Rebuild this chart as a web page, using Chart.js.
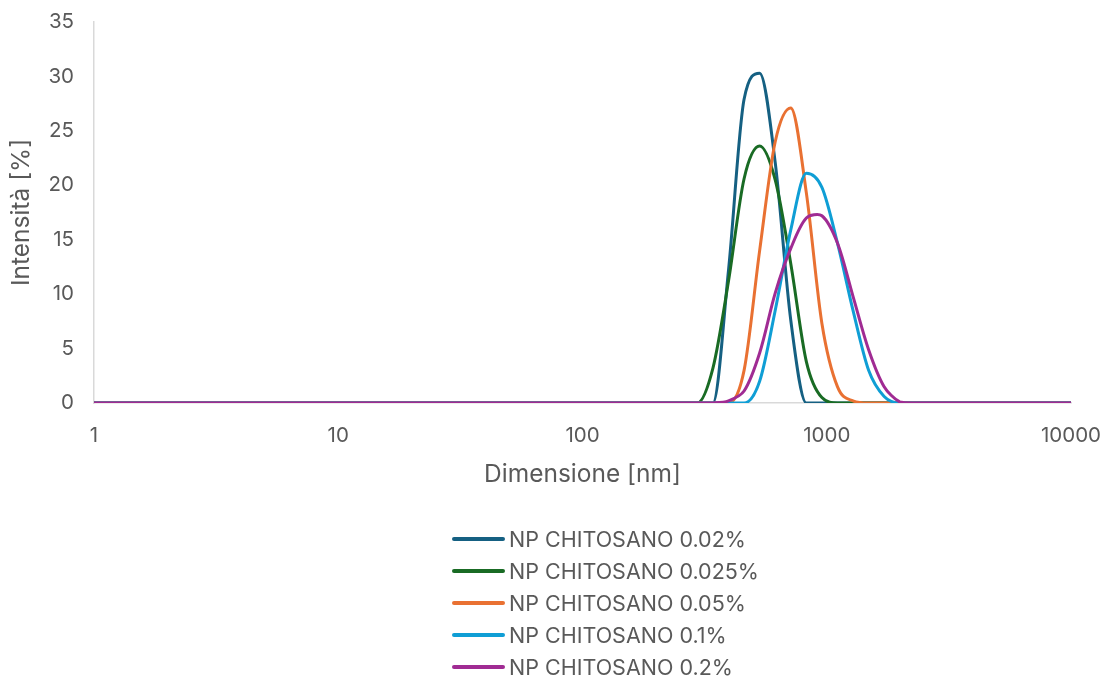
<!DOCTYPE html>
<html>
<head>
<meta charset="utf-8">
<script src="https://cdn.jsdelivr.net/npm/chart.js@4.4.1/dist/chart.umd.min.js"></script>
<style>
  body { margin: 0; background: #fff; }
  #wrap { position: relative; width: 1109px; height: 678px; }
  #legend { position: absolute; left: 452px; top: 523px; font-family: Inter, sans-serif; font-size: 21.5px; color: #595959; }
  .item { display: flex; align-items: center; height: 32px; }
  .swatch { width: 53px; height: 4px; border-radius: 2px; margin-right: 4px; }
</style>
</head>
<body>
<div id="wrap">
  <canvas id="chart" width="1109" height="678"></canvas>
  <div id="legend"></div>
</div>
<script>
// DLS size bins (nm)
const sizes = [
  0.9649, 1.117, 1.294, 1.499, 1.736, 2.010, 2.328, 2.696, 3.122, 3.615,
  4.187, 4.849, 5.615, 6.503, 7.531, 8.721, 10.10, 11.70, 13.54, 15.69,
  18.17, 21.04, 24.36, 28.21, 32.67, 37.84, 43.82, 50.75, 58.77, 68.06,
  78.82, 91.28, 105.7, 122.4, 141.8, 164.2, 190.1, 220.2, 255.0, 295.3,
  342.0, 396.1, 458.7, 531.2, 615.1, 712.4, 825.0, 955.4, 1106, 1281,
  1484, 1718, 1990, 2305, 2669, 3091, 3580, 4145, 4801, 5560,
  6439, 7456, 8635, 10000
];

const np002 = [
  0, 0, 0, 0, 0, 0, 0, 0, 0, 0,
  0, 0, 0, 0, 0, 0, 0, 0, 0, 0,
  0, 0, 0, 0, 0, 0, 0, 0, 0, 0,
  0, 0, 0, 0, 0, 0, 0, 0, 0, 0,
  0, 12.2, 27.9, 30.3, 22.1, 7.6, 0, 0, 0, 0,
  0, 0, 0, 0, 0, 0, 0, 0, 0, 0,
  0, 0, 0, 0
];
const np0025 = [
  0, 0, 0, 0, 0, 0, 0, 0, 0, 0,
  0, 0, 0, 0, 0, 0, 0, 0, 0, 0,
  0, 0, 0, 0, 0, 0, 0, 0, 0, 0,
  0, 0, 0, 0, 0, 0, 0, 0, 0, 0,
  3.2, 11.2, 20.6, 23.6, 20.5, 12.8, 3.8, 0.5, 0, 0,
  0, 0, 0, 0, 0, 0, 0, 0, 0, 0,
  0, 0, 0, 0
];
const np005 = [
  0, 0, 0, 0, 0, 0, 0, 0, 0, 0,
  0, 0, 0, 0, 0, 0, 0, 0, 0, 0,
  0, 0, 0, 0, 0, 0, 0, 0, 0, 0,
  0, 0, 0, 0, 0, 0, 0, 0, 0, 0,
  0, 0, 3.0, 14.0, 24.0, 27.1, 19.3, 7.3, 1.5, 0.2,
  0, 0, 0, 0, 0, 0, 0, 0, 0, 0,
  0, 0, 0, 0
];
const np01 = [
  0, 0, 0, 0, 0, 0, 0, 0, 0, 0,
  0, 0, 0, 0, 0, 0, 0, 0, 0, 0,
  0, 0, 0, 0, 0, 0, 0, 0, 0, 0,
  0, 0, 0, 0, 0, 0, 0, 0, 0, 0,
  0, 0, 0, 2.0, 8.5, 15.9, 21.1, 19.8, 14.7, 8.5,
  3.0, 0.6, 0, 0, 0, 0, 0, 0, 0, 0,
  0, 0, 0, 0
];
const np02 = [
  0, 0, 0, 0, 0, 0, 0, 0, 0, 0,
  0, 0, 0, 0, 0, 0, 0, 0, 0, 0,
  0, 0, 0, 0, 0, 0, 0, 0, 0, 0,
  0, 0, 0, 0, 0, 0, 0, 0, 0, 0,
  0, 0.2, 1.1, 4.6, 10.1, 14.2, 17.0, 17.2, 14.7, 9.8,
  4.9, 1.5, 0.1, 0, 0, 0, 0, 0, 0, 0,
  0, 0, 0, 0
];

const seriesLabels = ['NP CHITOSANO 0.02%', 'NP CHITOSANO 0.025%', 'NP CHITOSANO 0.05%', 'NP CHITOSANO 0.1%', 'NP CHITOSANO 0.2%'];
const seriesColors = ['#156082', '#196B24', '#E97132', '#0F9ED5', '#A02B93'];
const xTicks = [1, 10, 100, 1000, 10000];

const series = [np002, np0025, np005, np01, np02];

const toPoints = (values) => values.map((v, i) => ({ x: sizes[i], y: v }));

const textColor = '#595959';
const axisColor = '#D9D9D9';

const chart = new Chart(document.getElementById('chart'), {
    type: 'line',
    data: {
        datasets: series.map((s, i) => ({
            label: seriesLabels[i],
            data: toPoints(s),
            borderColor: seriesColors[i],
            backgroundColor: seriesColors[i],
            borderWidth: 3,
            pointRadius: 0,
            // purple peaks between two bins, so keep it as a plain spline
            cubicInterpolationMode: s === np02 ? 'default' : 'monotone',
            tension: 0.3,
            order: series.length - i,
        }))
    },
    options: {
        responsive: false,
        animation: false,
        layout: {
            padding: { left: 5, right: 38, top: 22, bottom: 189 }
        },
        plugins: {
            legend: { display: false },
            tooltip: { enabled: false },
        },
        scales: {
            x: {
                type: 'logarithmic',
                min: 1,
                max: 10000,
                afterBuildTicks: (scale) => {
                    scale.ticks = xTicks.map(v => ({ value: v }));
                },
                afterFit: (scale) => {
                    scale.height = 86;
                    scale.paddingLeft = 0;
                    scale.paddingRight = 0;
                },
                grid: { display: false, drawTicks: false },
                border: { display: true, color: axisColor, width: 1.5 },
                ticks: {
                    padding: 21,
                    color: textColor,
                    font: { family: 'Inter', size: 20.5 },
                    autoSkip: false,
                    maxRotation: 0,
                    callback: (v) => String(v),
                },
                title: {
                    display: true,
                    text: 'Dimensione [nm]',
                    color: textColor,
                    font: { family: 'Inter', size: 24.5, weight: 'normal' },
                    padding: { top: 14, bottom: 0 },
                }
            },
            y: {
                type: 'linear',
                min: 0,
                max: 35,
                afterFit: (scale) => {
                    scale.width = 89;
                    scale.paddingTop = 0;
                    scale.paddingBottom = 0;
                },
                grid: { display: false, drawTicks: false },
                border: { display: true, color: axisColor, width: 1.5 },
                ticks: {
                    stepSize: 5,
                    padding: 20,
                    color: textColor,
                    font: { family: 'Inter', size: 20.5 },
                },
                title: {
                    display: true,
                    text: 'Intensità [%]',
                    color: textColor,
                    font: { family: 'Inter', size: 24.5, weight: 'normal' },
                    padding: { top: 2, bottom: 4 },
                }
            }
        }
    }
});

// legend: one item per row, like the original
const legendEl = document.getElementById('legend');
chart.data.datasets.forEach((ds) => {
    const row = document.createElement('div');
    row.className = 'item';
    const sw = document.createElement('span');
    sw.className = 'swatch';
    sw.style.background = ds.borderColor;
    const txt = document.createElement('span');
    txt.textContent = ds.label;
    row.appendChild(sw);
    row.appendChild(txt);
    legendEl.appendChild(row);
});
</script>
</body>
</html>
